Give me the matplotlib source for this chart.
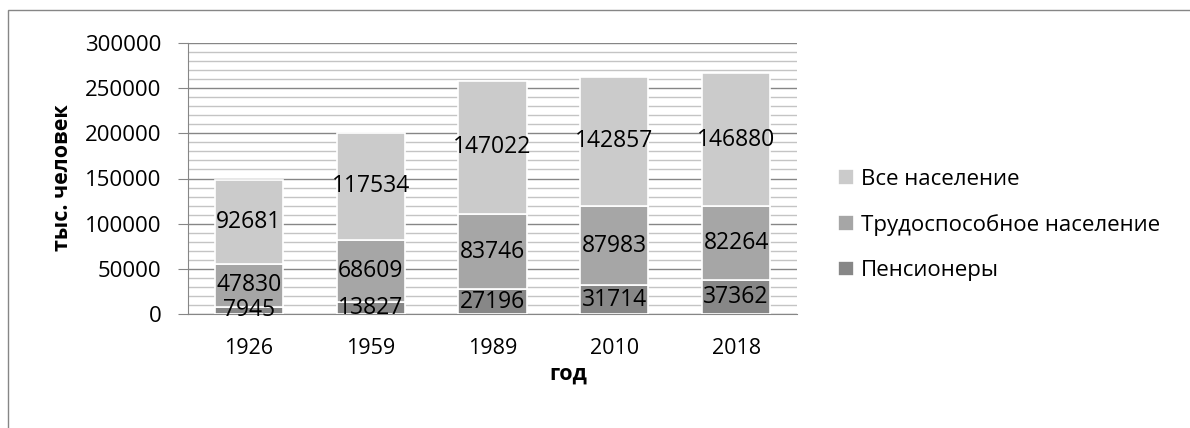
import numpy as np
import matplotlib.pyplot as plt
from matplotlib.patches import Rectangle
from matplotlib.ticker import MultipleLocator

years = ["1926", "1959", "1989", "2010", "2018"]
pensioners = [7945, 13827, 27196, 31714, 37362]
working = [47830, 68609, 83746, 87983, 82264]
total = [92681, 117534, 147022, 142857, 146880]

series = [
    ("Пенсионеры", pensioners, "#878787"),
    ("Трудоспособное население", working, "#a6a6a6"),
    ("Все население", total, "#cbcbcb"),
]

plt.rcParams['font.family'] = ['Open Sans', 'DejaVu Sans']

W, H = 1190, 428
fig = plt.figure(figsize=(W / 100, H / 100), dpi=100)
ax = fig.add_axes([188 / W, 1 - 314 / H, 609 / W, 271 / H])

x = np.arange(len(years))
bottom = np.zeros(len(years))
handles = []
for name, vals, color in series:
    vals = np.array(vals)
    b = ax.bar(x, vals, 0.56, bottom=bottom, color=color, edgecolor="white",
               linewidth=1.2, label=name, zorder=3)
    handles.append(b)
    for xi, v, bt in zip(x, vals, bottom):
        ax.text(xi, bt + v / 2, str(v), ha="center", va="center",
                fontsize=16.5, color="black", zorder=4)
    bottom += vals

ax.set_xlim(-0.5, 4.5)
ax.set_ylim(0, 300000)
ax.yaxis.set_major_locator(MultipleLocator(50000))
ax.yaxis.set_minor_locator(MultipleLocator(10000))
ax.grid(which="major", axis="y", color="#868686", linewidth=1.0, zorder=0)
ax.grid(which="minor", axis="y", color="#c4c4c4", linewidth=1.0, zorder=0)
ax.set_xticks(x)
ax.set_xticklabels(years)
ax.tick_params(axis="x", length=0, pad=17, labelsize=15.5)
ax.tick_params(axis="y", which="major", length=7, color="#868686", labelsize=16, pad=12)
ax.tick_params(axis="y", which="minor", length=0)
for s in ["top", "right"]:
    ax.spines[s].set_visible(False)
ax.spines["left"].set_color("#868686")
ax.spines["bottom"].set_color("#868686")

fig.text(62 / W, 1 - 178 / H, "тыс. человек", rotation=90, ha="center", va="center",
         fontsize=15.5, fontweight="bold")
fig.text(568 / W, 1 - 374 / H, "год", ha="center", va="center",
         fontsize=15.5, fontweight="bold")

leg = fig.legend(handles[::-1], [s[0] for s in series][::-1],
                 loc="center left", bbox_to_anchor=(818 / W, 1 - 225 / H),
                 frameon=False, fontsize=16, handlelength=0.7, handleheight=0.7,
                 handletextpad=0.35, labelspacing=1.1)

fig.patches.append(Rectangle((8 / W, -0.1), 1.2, 1 - 10 / H + 0.1,
                             transform=fig.transFigure, fill=False,
                             edgecolor="#868686", linewidth=1.0))

fig.savefig("out.png", dpi=100)
